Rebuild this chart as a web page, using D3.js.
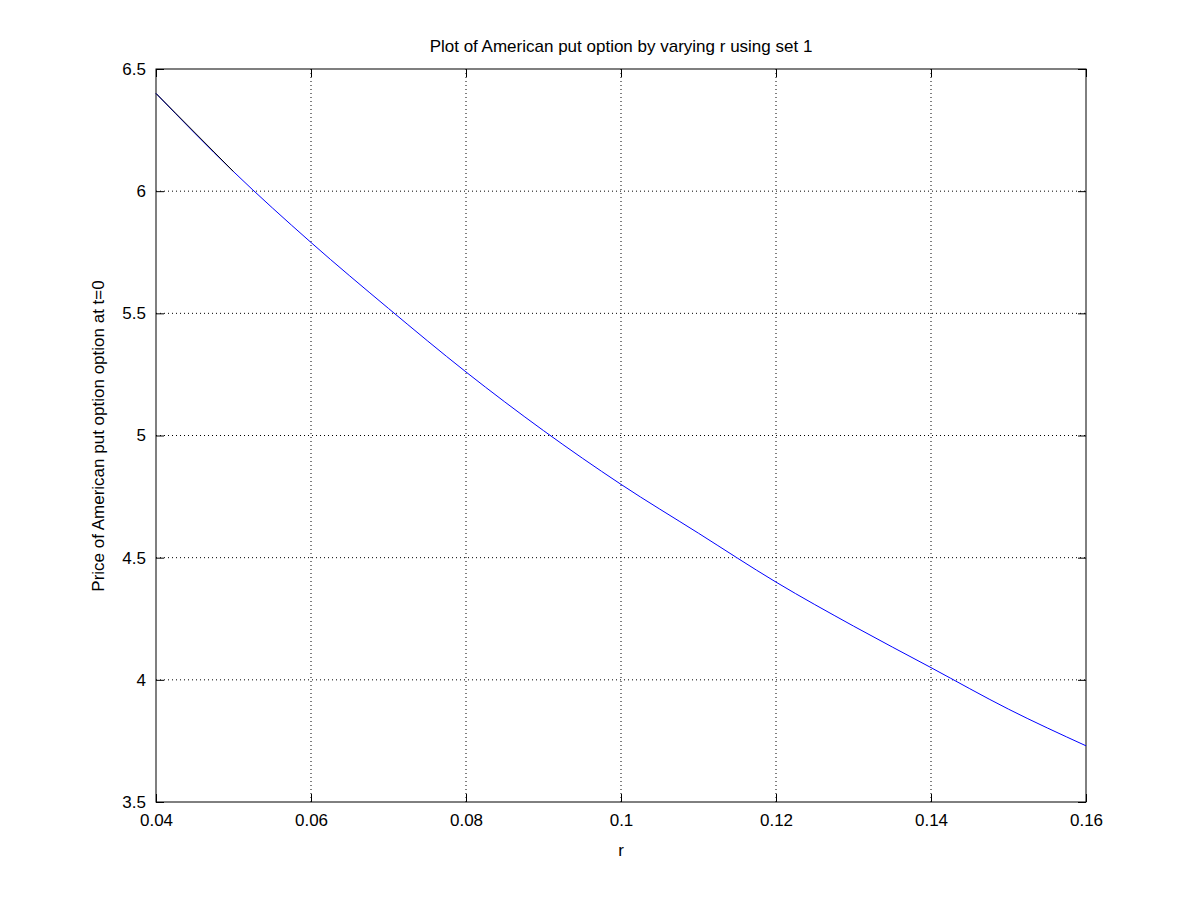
<!DOCTYPE html>
<html><head><meta charset="utf-8">
<script src="https://cdn.jsdelivr.net/npm/d3@7"></script>
<style>body{margin:0;background:#fff}svg{font-family:"Liberation Sans",Arial,sans-serif}</style>
</head><body><svg id="c" width="1200" height="900"></svg>
<script>
const rValues=[0.04,0.05,0.06,0.07,0.08,0.09,0.10,0.11,0.12,0.13,0.14,0.15,0.16];
const priceValues=[6.40,6.08,5.79,5.52,5.26,5.02,4.80,4.60,4.40,4.22,4.05,3.88,3.73];
const xTicks=[0.04,0.06,0.08,0.1,0.12,0.14,0.16];
const yTicks=[3.5,4,4.5,5,5.5,6,6.5];
const svg=d3.select("#c");
const L=156,R=1086,T=69,B=802;
const x=d3.scaleLinear().domain([0.04,0.16]).range([L,R]);
const y=d3.scaleLinear().domain([3.5,6.5]).range([B,T]);
svg.append("rect").attr("x",L).attr("y",T).attr("width",R-L).attr("height",B-T).attr("fill","#fff").attr("stroke","#000");
const g=svg.append("g");
xTicks.slice(1,-1).forEach(t=>g.append("line").attr("x1",x(t)).attr("x2",x(t)).attr("y1",T).attr("y2",B).attr("stroke","#000").attr("stroke-dasharray","1,3"));
yTicks.slice(1,-1).forEach(t=>g.append("line").attr("y1",y(t)).attr("y2",y(t)).attr("x1",L).attr("x2",R).attr("stroke","#000").attr("stroke-dasharray","1,3"));
svg.append("g").attr("transform",`translate(0,${B})`).call(d3.axisBottom(x).tickValues(xTicks).tickFormat(d3.format("")).tickSizeInner(-8).tickSizeOuter(0).tickPadding(12));
svg.append("g").attr("transform",`translate(0,${T})`).call(d3.axisTop(x).tickValues(xTicks).tickFormat("").tickSizeInner(-8).tickSizeOuter(0));
svg.append("g").attr("transform",`translate(${L},0)`).call(d3.axisLeft(y).tickValues(yTicks).tickFormat(d3.format("")).tickSizeInner(-8).tickSizeOuter(0).tickPadding(10));
svg.append("g").attr("transform",`translate(${R},0)`).call(d3.axisRight(y).tickValues(yTicks).tickFormat("").tickSizeInner(-8).tickSizeOuter(0));
svg.selectAll(".domain").remove();
svg.selectAll(".tick text").attr("font-size",17).attr("fill","#000");
const pts=rValues.map((r,i)=>[r,priceValues[i]]);
const line=d3.line().x(d=>x(d[0])).y(d=>y(d[1])).curve(d3.curveMonotoneX);
svg.append("path").attr("d",line(pts)).attr("fill","none").attr("stroke","#0000ff").attr("stroke-width",1);
svg.append("path").attr("d",line(pts.slice(0,2))).attr("fill","none").attr("stroke","#000").attr("stroke-width",1);
svg.append("text").attr("x",621).attr("y",52).attr("text-anchor","middle").attr("font-size",17).text("Plot of American put option by varying r using set 1");
svg.append("text").attr("x",621).attr("y",856).attr("text-anchor","middle").attr("font-size",17).text("r");
svg.append("text").attr("transform","translate(104,436) rotate(-90)").attr("text-anchor","middle").attr("font-size",17).text("Price of American put option option at t=0");
</script></body></html>
